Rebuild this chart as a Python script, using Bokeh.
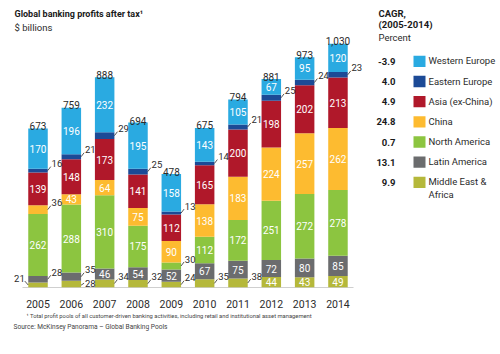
import numpy as np
from bokeh.plotting import figure
from bokeh.models import Range1d, FixedTicker
from bokeh.layouts import column
from bokeh.core.properties import value
from bokeh.embed import file_html
from bokeh.resources import INLINE

# ---------------- data ----------------
years = ["2005", "2006", "2007", "2008", "2009", "2010", "2011", "2012", "2013", "2014"]
western_europe = [170, 196, 232, 195, 158, 143, 105, 67, 95, 120]
eastern_europe = [16, 21, 29, 25, 13, 14, 21, 25, 24, 23]
asia_ex_china = [139, 148, 173, 141, 112, 165, 200, 198, 202, 213]
china = [36, 43, 64, 75, 90, 138, 183, 224, 257, 262]
north_america = [262, 288, 310, 175, 30, 112, 172, 251, 272, 278]
latin_america = [28, 35, 46, 54, 52, 67, 75, 72, 80, 85]
middle_east_africa = [21, 28, 34, 32, 24, 35, 38, 44, 43, 49]
totals = [673, 759, 888, 694, 478, 675, 794, 881, 973, 1030]

legend_names = ["Western Europe", "Eastern Europe", "Asia (ex-China)", "China",
                "North America", "Latin  America", "Middle East &\nAfrica"]
cagr_values = ["-3.9", "4.0", "4.9", "24.8", "0.7", "13.1", "9.9"]

footnote = ("\u00b9 Total profit pools of all customer-driven banking activities, "
            "including retail and institutional asset management")
source = "Source: McKinsey Panorama \u2013 Global Banking Pools"

# ---------------- style ----------------
FONT = "Roboto"
DARK = "#2b2b2b"
colors = {
    "Western Europe": "#2aaae1",
    "Eastern Europe": "#1c4a96",
    "Asia (ex-China)": "#b0182a",
    "China": "#fdbb30",
    "North America": "#8cc540",
    "Latin  America": "#6b6c6e",
    "Middle East &\nAfrica": "#b5b83a",
}

W, H = 500, 354
H1 = 310                     # height of the chart figure
PX0, STEP = 37.5, 33.33      # pixel centre of first bar, pixel spacing
BASE, SCALE = 291, 0.24      # baseline pixel row, pixels per $bn


def X(px):
    return (px - PX0) / STEP


def Y(py):
    return (BASE - py) / SCALE


p = figure(width=W, height=H1, output_backend="svg", toolbar_location=None,
           x_range=Range1d(X(0), X(W)), y_range=Range1d(0, BASE / SCALE),
           min_border_left=0, min_border_right=0, min_border_top=0,
           min_border_bottom=H1 - BASE, y_axis_location=None)
p.outline_line_color = None
p.grid.visible = False
p.background_fill_color = "white"
p.border_fill_color = "white"

xa = p.xaxis[0]
xa.ticker = FixedTicker(ticks=list(range(len(years))))
xa.major_label_overrides = {i: y for i, y in enumerate(years)}
xa.major_tick_line_color = None
xa.minor_tick_line_color = None
xa.axis_line_color = None
xa.major_label_standoff = 6
xa.major_label_text_font = FONT
xa.major_label_text_font_size = "10.5px"
xa.major_label_text_color = DARK

# baseline
p.segment(x0=[X(22)], y0=[0], x1=[X(353)], y1=[0], line_color="#a0a0a0", line_width=1)

# stacked bars, bottom to top
stack = [
    ("Middle East &\nAfrica", middle_east_africa),
    ("Latin  America", latin_america),
    ("North America", north_america),
    ("China", china),
    ("Asia (ex-China)", asia_ex_china),
    ("Eastern Europe", eastern_europe),
    ("Western Europe", western_europe),
]
idx = np.arange(len(years))
bw = 19.5 / STEP
hw = bw / 2
bottom = np.zeros(len(years))

in_x, in_y, in_t = [], [], []
out_x, out_y, out_t, out_al = [], [], [], []
ld_x0, ld_y0, ld_x1, ld_y1 = [], [], [], []

for name, vals in stack:
    vals = np.array(vals, dtype=float)
    top = bottom + vals
    p.vbar(x=idx, width=bw, bottom=bottom, top=top, fill_color=colors[name],
           line_color=None)
    for i, v in enumerate(vals):
        mid = (bottom[i] + top[i]) / 2
        if v >= 40:
            in_x.append(i); in_y.append(mid); in_t.append(str(int(v)))
        else:
            left = (name == "Middle East &\nAfrica" and i == 0)
            dy_px = 7
            if name == "Middle East &\nAfrica" and i == 1:
                dy_px = 1
            if left:
                ex = i - hw
                ld_x0.append(ex); ld_y0.append(mid)
                ld_x1.append(ex - 3.5 / STEP); ld_y1.append(mid + 4 / SCALE)
                out_x.append(ex - 3.5 / STEP); out_y.append(mid + dy_px / SCALE)
                out_al.append("right")
            else:
                ex = i + hw
                ld_x0.append(ex); ld_y0.append(mid - (1 if dy_px < 3 else 0) / SCALE)
                ld_x1.append(ex + 3 / STEP); ld_y1.append(mid + min(dy_px, 4) / SCALE)
                out_x.append(ex + 3.8 / STEP); out_y.append(mid + dy_px / SCALE)
                out_al.append("left")
            out_t.append(str(int(v)))
    bottom = top

p.text(x=in_x, y=in_y, text=in_t, text_color="white", text_font=value(FONT),
       text_font_size="10px", text_align="center", text_baseline="middle")
p.segment(x0=ld_x0, y0=ld_y0, x1=ld_x1, y1=ld_y1, line_color=DARK, line_width=0.8)
p.text(x=out_x, y=out_y, text=out_t, text_color=DARK, text_font=value(FONT),
       text_font_size="9.5px", text_align=out_al, text_baseline="middle")

# totals
tot_labels = [f"{t:,}" for t in totals]
p.text(x=idx, y=np.array(totals) + 2.5 / SCALE, text=tot_labels, text_color=DARK,
       text_font=value(FONT), text_font_size="10px", text_align="center",
       text_baseline="alphabetic")

# title
p.text(x=[X(14)], y=[Y(13.7)], text=["Global banking profits after tax\u00b9"],
       text_color="#1a1a1a", text_font=value(FONT), text_font_size="9px",
       text_font_style="bold", text_baseline="middle")
p.text(x=[X(14)], y=[Y(27)], text=["$ billions"], text_color=DARK,
       text_font=value(FONT), text_font_size="9.5px", text_baseline="middle")

# legend block
p.text(x=[X(378)] * 2, y=[Y(13.3), Y(24.5)], text=["CAGR,", "(2005-2014)"],
       text_color="#1a1a1a", text_font=value(FONT), text_font_size="9.5px",
       text_font_style="bold", text_baseline="middle")
p.text(x=[X(378)], y=[Y(37.7)], text=["Percent"], text_color=DARK,
       text_font=value(FONT), text_font_size="9.5px", text_baseline="middle")

row_y = [Y(61.7 + 20.45 * k) for k in range(len(legend_names))]
p.text(x=[X(395)] * len(cagr_values), y=row_y, text=cagr_values, text_color="#1a1a1a",
       text_font=value(FONT), text_font_size="9.5px", text_font_style="bold",
       text_align="right", text_baseline="middle")
p.rect(x=[X(419)] * len(legend_names), y=row_y, width=12 / STEP, height=11.5 / SCALE,
       fill_color=[colors[n] for n in legend_names], line_color=None)
p.text(x=[X(428)] * len(legend_names), y=[r + 6 / SCALE for r in row_y],
       text=legend_names, text_color=DARK, text_font=value(FONT),
       text_font_size="9.5px", text_align="left", text_baseline="top",
       text_line_height=1.15)

# footnote strip (pixel coordinates, y measured from its top)
H2 = H - H1
q = figure(width=W, height=H2, output_backend="svg", toolbar_location=None,
           x_range=Range1d(0, W), y_range=Range1d(H2, 0),
           min_border=0, x_axis_location=None, y_axis_location=None)
q.outline_line_color = None
q.grid.visible = False
q.text(x=[26], y=[315.7 - H1], text=[footnote], text_color="#444444",
       text_font=value(FONT), text_font_size="5.8px", text_baseline="middle")
q.text(x=[13], y=[326.7 - H1], text=[source], text_color="#444444",
       text_font=value(FONT), text_font_size="6.6px", text_baseline="middle")

layout = column(p, q, spacing=0)
open("out.html", "w").write(file_html(layout, INLINE))
